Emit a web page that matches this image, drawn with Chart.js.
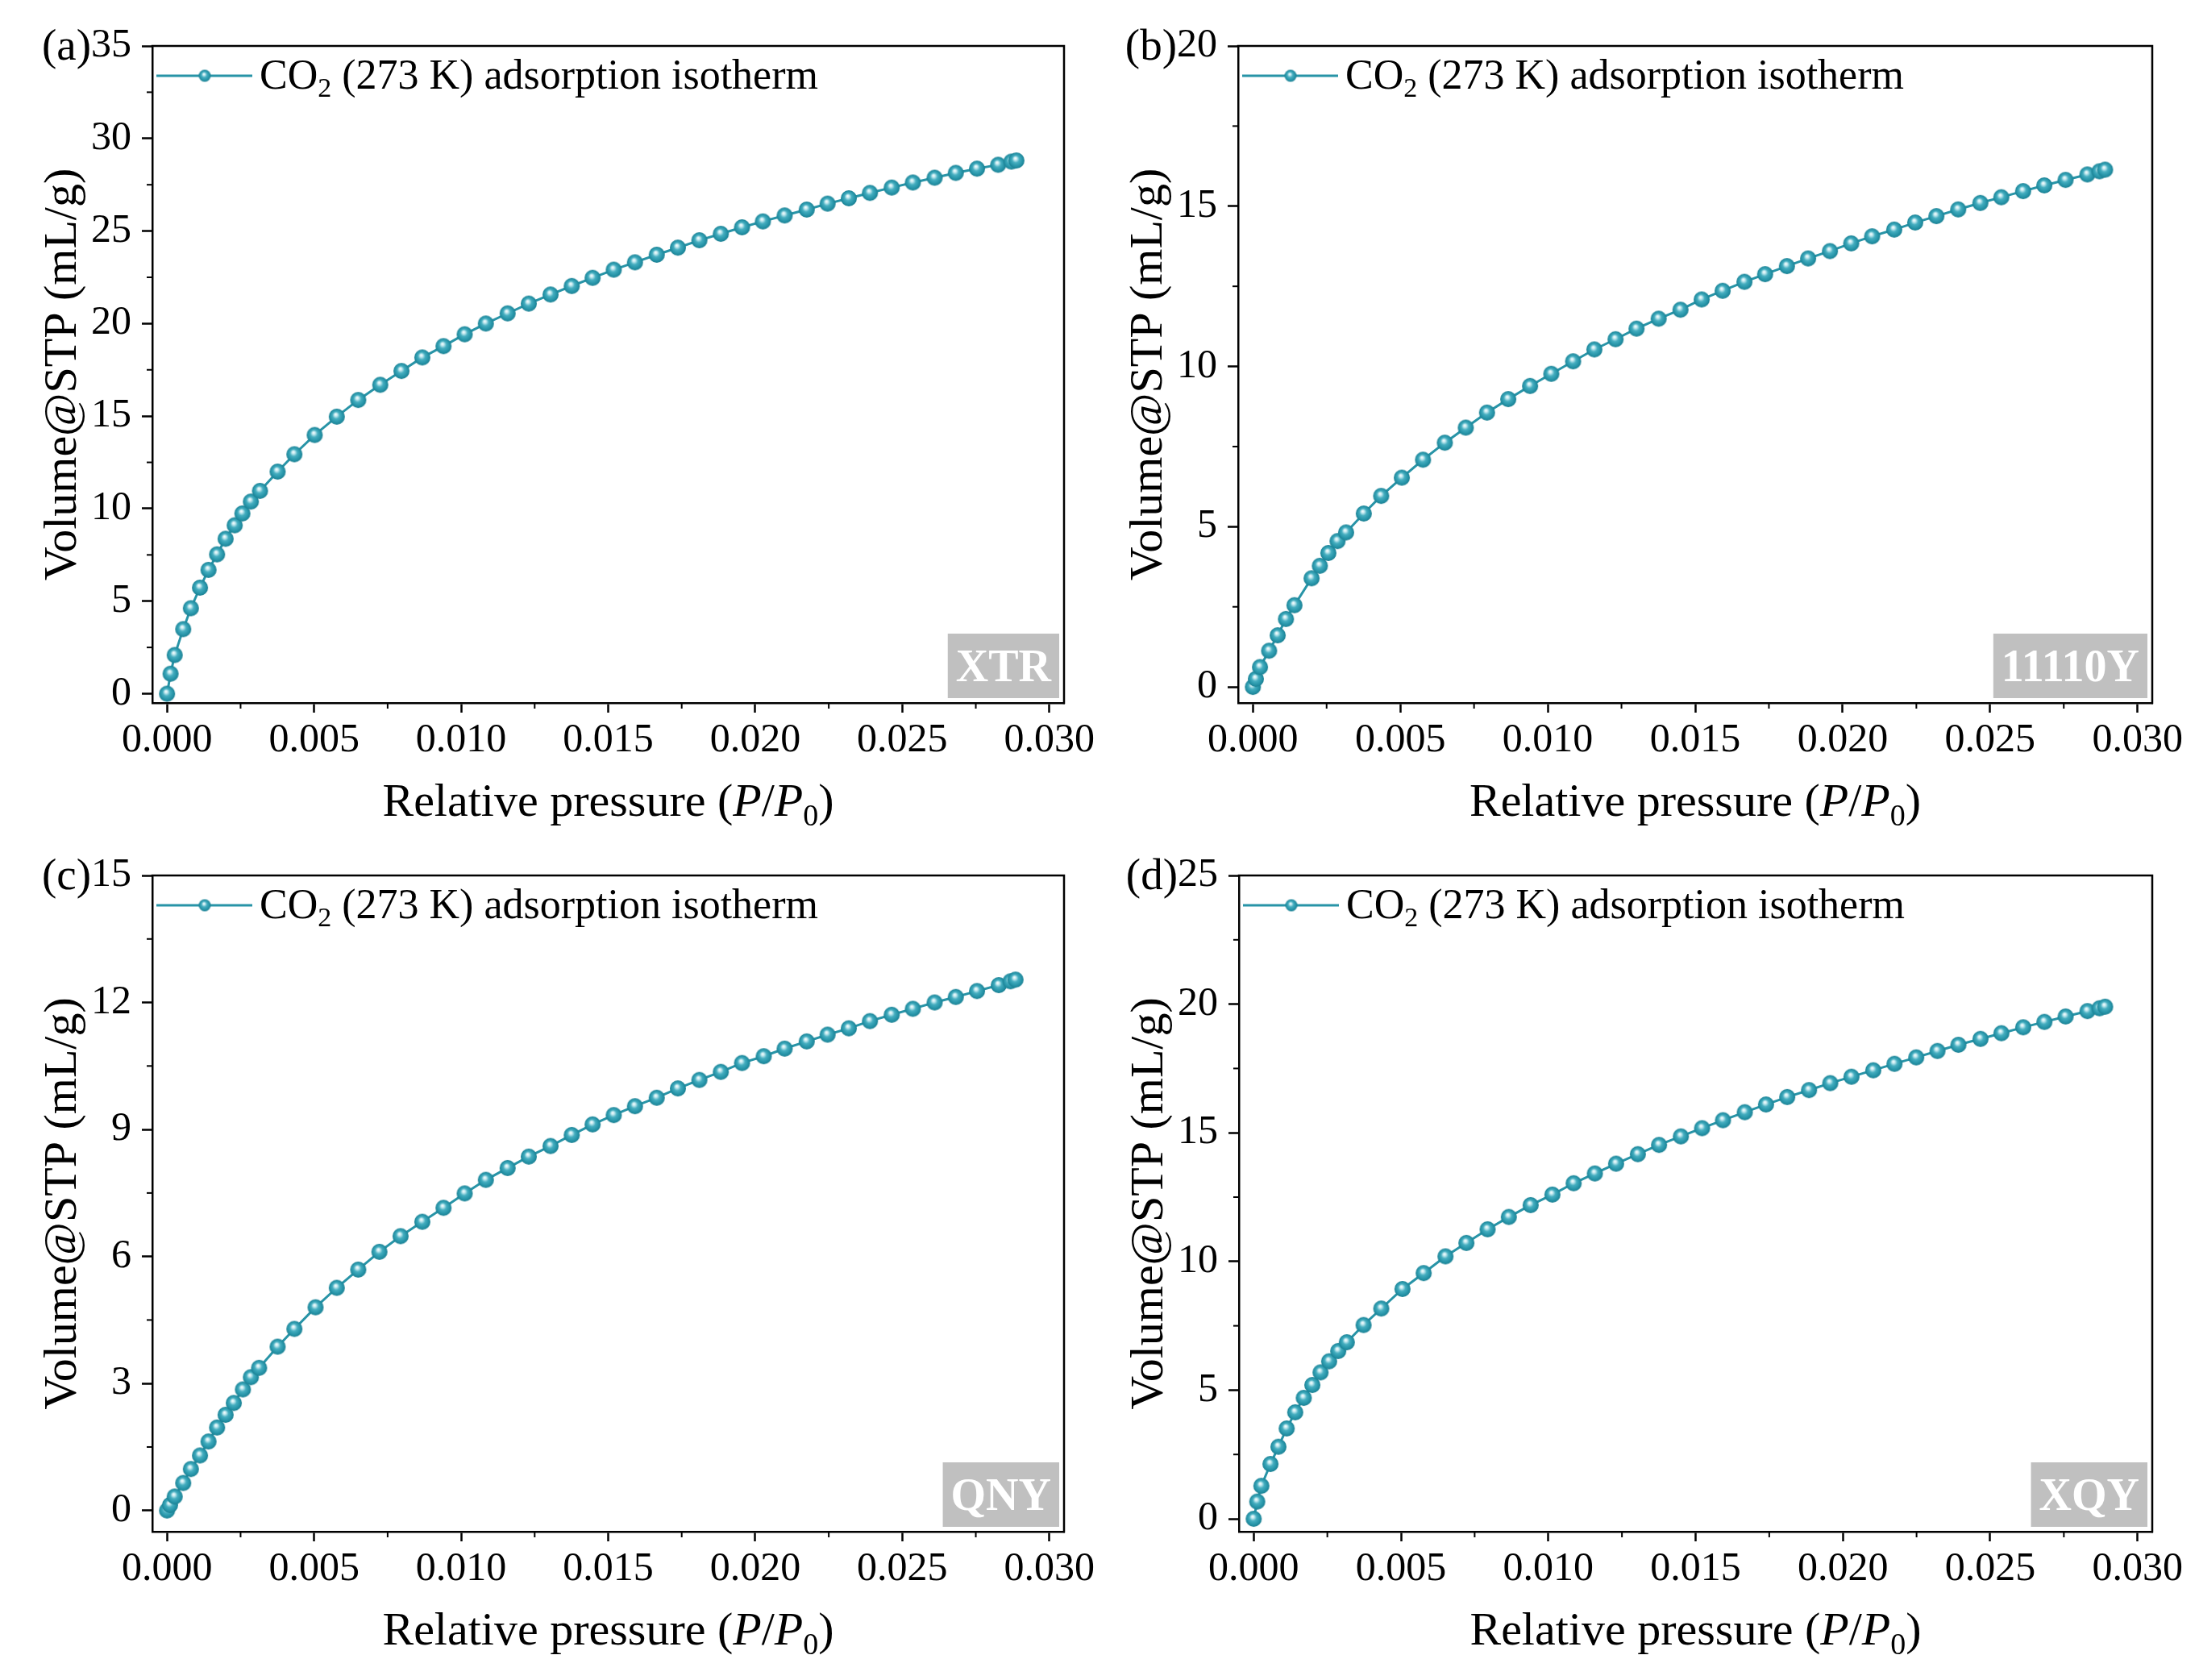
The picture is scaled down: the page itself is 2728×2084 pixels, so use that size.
<!DOCTYPE html>
<html>
<head>
<meta charset="utf-8">
<title>CO2 adsorption isotherms</title>
<script src="https://cdn.jsdelivr.net/npm/chart.js@4.4.1/dist/chart.umd.min.js"></script>
<style>
    html, body { margin: 0; padding: 0; background: #fff; }
    #wrap { position: relative; width: 2728px; height: 2084px; }
    .panel { position: absolute; width: 1364px; height: 1042px; }
</style>
</head>
<body>
<div id="wrap">
    <div class="panel" style="left:0;top:0"><canvas id="chartA" width="1364" height="1042"></canvas></div>
    <div class="panel" style="left:1364px;top:0"><canvas id="chartB" width="1364" height="1042"></canvas></div>
    <div class="panel" style="left:0;top:1042px"><canvas id="chartC" width="1364" height="1042"></canvas></div>
    <div class="panel" style="left:1364px;top:1042px"><canvas id="chartD" width="1364" height="1042"></canvas></div>
</div>
<script>
// ---- Data ----
const xA = [0, 0.00012, 0.00026, 0.00055, 0.00081, 0.00112, 0.00141, 0.0017, 0.00199, 0.0023,
    0.00256, 0.00285, 0.00316, 0.00376, 0.00433, 0.00502, 0.00577, 0.0065, 0.00725, 0.00797,
    0.00868, 0.0094, 0.01012, 0.01084, 0.01158, 0.0123, 0.01304, 0.01376, 0.01447, 0.01519,
    0.01591, 0.01665, 0.01737, 0.0181, 0.01883, 0.01955, 0.02026, 0.021, 0.02175, 0.02246,
    0.02318, 0.0239, 0.02464, 0.02536, 0.0261, 0.02682, 0.02754, 0.02826, 0.02871, 0.02888];
const yA = [0, 1.08, 2.09, 3.49, 4.62, 5.73, 6.69, 7.53, 8.37, 9.10,
    9.74, 10.38, 10.96, 12.0, 12.94, 13.98, 14.97, 15.87, 16.69, 17.44,
    18.17, 18.78, 19.42, 20.0, 20.55, 21.08, 21.57, 22.03, 22.47, 22.91,
    23.31, 23.72, 24.1, 24.5, 24.85, 25.2, 25.52, 25.84, 26.16, 26.48,
    26.77, 27.06, 27.35, 27.62, 27.88, 28.14, 28.37, 28.58, 28.75, 28.81];

const xB = [0, 0.0001, 0.00024, 0.00055, 0.00084, 0.00112, 0.00141, 0.00199, 0.00227, 0.00256,
    0.00287, 0.00316, 0.00376, 0.00435, 0.00505, 0.00577, 0.00651, 0.00722, 0.00794, 0.00866,
    0.0094, 0.01012, 0.01086, 0.01158, 0.0123, 0.01301, 0.01376, 0.0145, 0.01522, 0.01593,
    0.01667, 0.01737, 0.01811, 0.01883, 0.01957, 0.02029, 0.021, 0.02175, 0.02246, 0.02318,
    0.02392, 0.02467, 0.02538, 0.02612, 0.02684, 0.02756, 0.0283, 0.02871, 0.0289];
const yB = [0, 0.25, 0.62, 1.13, 1.61, 2.12, 2.55, 3.39, 3.78, 4.18,
    4.55, 4.82, 5.41, 5.96, 6.53, 7.09, 7.62, 8.09, 8.56, 8.98,
    9.39, 9.77, 10.16, 10.53, 10.85, 11.18, 11.49, 11.77, 12.09, 12.36,
    12.64, 12.88, 13.13, 13.37, 13.6, 13.84, 14.06, 14.27, 14.49, 14.69,
    14.9, 15.1, 15.28, 15.47, 15.65, 15.82, 15.99, 16.09, 16.14];

const xC = [0, 0.0001, 0.00026, 0.00055, 0.00081, 0.00112, 0.00141, 0.0017, 0.00199, 0.00227,
    0.00258, 0.00285, 0.00313, 0.00376, 0.00433, 0.00505, 0.00577, 0.0065, 0.00722, 0.00794,
    0.00868, 0.0094, 0.01012, 0.01084, 0.01158, 0.0123, 0.01304, 0.01376, 0.01447, 0.01519,
    0.01591, 0.01665, 0.01737, 0.0181, 0.01883, 0.01955, 0.02029, 0.021, 0.02175, 0.02246,
    0.02318, 0.0239, 0.02464, 0.02536, 0.0261, 0.02682, 0.02754, 0.02828, 0.02868, 0.02885];
const yC = [0, 0.13, 0.33, 0.65, 0.98, 1.3, 1.63, 1.96, 2.26, 2.54,
    2.86, 3.15, 3.37, 3.87, 4.29, 4.8, 5.26, 5.69, 6.11, 6.48,
    6.82, 7.15, 7.49, 7.81, 8.09, 8.36, 8.61, 8.87, 9.12, 9.34,
    9.55, 9.75, 9.97, 10.17, 10.36, 10.57, 10.73, 10.91, 11.08, 11.24,
    11.39, 11.56, 11.71, 11.85, 12.0, 12.13, 12.27, 12.41, 12.5, 12.54];

const xD = [0, 0.00012, 0.00026, 0.00057, 0.00084, 0.00112, 0.00141, 0.0017, 0.00199, 0.00227,
    0.00256, 0.00287, 0.00316, 0.00373, 0.00433, 0.00505, 0.00577, 0.00651, 0.00722, 0.00794,
    0.00866, 0.0094, 0.01014, 0.01086, 0.01158, 0.0123, 0.01304, 0.01376, 0.0145, 0.01522,
    0.01593, 0.01667, 0.01739, 0.01811, 0.01885, 0.01957, 0.02029, 0.02103, 0.02175, 0.02249,
    0.02321, 0.02392, 0.02467, 0.02538, 0.02612, 0.02684, 0.02756, 0.0283, 0.02871, 0.0289];
const yD = [0, 0.67, 1.28, 2.13, 2.8, 3.51, 4.14, 4.7, 5.2, 5.69,
    6.12, 6.52, 6.86, 7.53, 8.17, 8.93, 9.55, 10.2, 10.72, 11.25,
    11.73, 12.19, 12.6, 13.04, 13.42, 13.8, 14.17, 14.53, 14.86, 15.18,
    15.49, 15.8, 16.1, 16.39, 16.66, 16.93, 17.18, 17.43, 17.68, 17.93,
    18.18, 18.42, 18.65, 18.87, 19.1, 19.31, 19.52, 19.73, 19.84, 19.9];

// Tick values
const xTicks = [0, 0.005, 0.010, 0.015, 0.020, 0.025, 0.030];
const xMinorTicks = [0.0025, 0.0075, 0.0125, 0.0175, 0.0225, 0.0275];
const yTicksA = [0, 5, 10, 15, 20, 25, 30, 35];
const yMinorA = [2.5, 7.5, 12.5, 17.5, 22.5, 27.5, 32.5];
const yTicksB = [0, 5, 10, 15, 20];
const yMinorB = [2.5, 7.5, 12.5, 17.5];
const yTicksC = [0, 3, 6, 9, 12, 15];
const yMinorC = [1.5, 4.5, 7.5, 10.5, 13.5];
const yTicksD = [0, 5, 10, 15, 20, 25];
const yMinorD = [2.5, 7.5, 12.5, 17.5, 22.5];

const panelLabels = ['(a)', '(b)', '(c)', '(d)'];
const sampleNames = ['XTR', '11110Y', 'QNY', 'XQY'];

// Styling
const SERIF = "'Liberation Serif', 'Times New Roman', serif";
const lineColor = '#2894a7';
const CW = 1364, CH = 1042;
const TICK_FONT = 50;

Chart.defaults.font.family = SERIF;
Chart.defaults.color = '#000';

// Shaded sphere used as point marker
function makeSphere(r) {
    const c = document.createElement('canvas');
    const s = Math.ceil(r * 2 + 2);
    c.width = s; c.height = s;
    const g = c.getContext('2d');
    const cx = s / 2, cy = s / 2;
    const grad = g.createRadialGradient(cx - r * 0.15, cy - r * 0.3, 0, cx, cy, r);
    grad.addColorStop(0, '#ffffff');
    grad.addColorStop(0.18, '#c9ecf2');
    grad.addColorStop(0.45, '#45aec0');
    grad.addColorStop(0.8, '#2593a7');
    grad.addColorStop(1, '#1b7f91');
    g.fillStyle = grad;
    g.beginPath();
    g.arc(cx, cy, r, 0, Math.PI * 2);
    g.fill();
    return c;
}
const sphere = makeSphere(10);
const legendSphere = makeSphere(7.5);

// Draws frame, minor ticks, legend, panel label, sample badge and x title
const panelDecor = {
    id: 'panelDecor',
    afterDraw(chart, args, opts) {
        const ctx = chart.ctx;
        const {left, right, top, bottom} = chart.chartArea;
        const xs = chart.scales.x, ys = chart.scales.y;
        ctx.save();

        // top + right frame
        ctx.strokeStyle = '#000';
        ctx.lineWidth = 2.5;
        ctx.beginPath();
        ctx.moveTo(left - 1.25, top);
        ctx.lineTo(right, top);
        ctx.lineTo(right, bottom + 1.25);
        ctx.stroke();

        // minor ticks
        ctx.lineWidth = 2;
        xMinorTicks.forEach(v => {
            const px = xs.getPixelForValue(v);
            ctx.beginPath(); ctx.moveTo(px, bottom); ctx.lineTo(px, bottom + 7); ctx.stroke();
        });
        opts.yMinor.forEach(v => {
            const py = ys.getPixelForValue(v);
            ctx.beginPath(); ctx.moveTo(left, py); ctx.lineTo(left - 7, py); ctx.stroke();
        });

        // legend
        const ly = top + 37;
        ctx.strokeStyle = lineColor;
        ctx.lineWidth = 3;
        ctx.beginPath(); ctx.moveTo(left + 5, ly); ctx.lineTo(left + 124, ly); ctx.stroke();
        ctx.drawImage(legendSphere, left + 65 - legendSphere.width / 2, ly - legendSphere.height / 2);
        ctx.fillStyle = '#000';
        ctx.textAlign = 'left';
        ctx.textBaseline = 'alphabetic';
        let tx = left + 133;
        const base = ly + 16;
        ctx.font = '52px ' + SERIF;
        ctx.fillText('CO', tx, base); tx += ctx.measureText('CO').width;
        ctx.font = '34px ' + SERIF;
        ctx.fillText('2', tx, base + 10); tx += ctx.measureText('2').width;
        ctx.font = '52px ' + SERIF;
        ctx.fillText(' (273 K) adsorption isotherm', tx, base);

        // panel label next to the top tick label
        ctx.font = TICK_FONT + 'px ' + SERIF;
        const topLabel = String(ys.max);
        const labelRight = left - 13 - 13 - ctx.measureText(topLabel).width;
        ctx.font = '55px ' + SERIF;
        ctx.textAlign = 'right';
        ctx.fillText(opts.label, labelRight, top + 17);

        // sample badge
        ctx.font = 'bold 56px ' + SERIF;
        const bw = ctx.measureText(opts.sample).width + 20;
        const bh = 80;
        const bx = right - 6 - bw, by = bottom - 6 - bh;
        ctx.fillStyle = '#c0c0c0';
        ctx.fillRect(bx, by, bw, bh);
        ctx.fillStyle = '#fff';
        ctx.textAlign = 'center';
        ctx.fillText(opts.sample, bx + bw / 2, by + bh / 2 + 19);

        // x axis title with italic P and subscript 0
        const parts = [
            {t: 'Relative pressure (', f: '58px ' + SERIF, dy: 0},
            {t: 'P', f: 'italic 58px ' + SERIF, dy: 0},
            {t: '/', f: '58px ' + SERIF, dy: 0},
            {t: 'P', f: 'italic 58px ' + SERIF, dy: 0},
            {t: '0', f: '38px ' + SERIF, dy: 12},
            {t: ')', f: '58px ' + SERIF, dy: 0}
        ];
        let total = 0;
        parts.forEach(p => { ctx.font = p.f; p.w = ctx.measureText(p.t).width; total += p.w; });
        let px = (left + right) / 2 - total / 2;
        const tb = bottom + 140;
        ctx.fillStyle = '#000';
        ctx.textAlign = 'left';
        parts.forEach(p => { ctx.font = p.f; ctx.fillText(p.t, px, tb + p.dy); px += p.w; });

        ctx.restore();
    }
};

// Plot-area boxes inside each canvas
const boxes = [
    {left: 189, right: 1320, top: 57, bottom: 872},
    {left: 172, right: 1306, top: 57, bottom: 872},
    {left: 189, right: 1320, top: 44, bottom: 858},
    {left: 173, right: 1306, top: 44, bottom: 858}
];

function makeChart(id, idx, xs, ys, yMax, yTicks, yMinor) {
    const box = boxes[idx];
    const ctx = document.getElementById(id).getContext('2d');
    return new Chart(ctx, {
        type: 'line',
        data: {
            datasets: [{
                data: xs.map((x, i) => ({x: x, y: ys[i]})),
                borderColor: lineColor,
                borderWidth: 3,
                tension: 0,
                pointStyle: sphere,
                pointRadius: 10,
                clip: false
            }]
        },
        options: {
            responsive: false,
            devicePixelRatio: 1,
            animation: false,
            layout: {
                padding: {left: 0, top: box.top, right: CW - box.right, bottom: 0}
            },
            plugins: {
                legend: {display: false},
                tooltip: {enabled: false},
                panelDecor: {label: panelLabels[idx], sample: sampleNames[idx], yMinor: yMinor}
            },
            scales: {
                x: {
                    type: 'linear',
                    min: -0.0005,
                    max: 0.0305,
                    afterBuildTicks: s => { s.ticks = xTicks.map(v => ({value: v})); },
                    afterFit: s => { s.height = CH - box.bottom; s.paddingLeft = 0; s.paddingRight = 0; },
                    border: {display: true, color: '#000', width: 2.5},
                    grid: {drawOnChartArea: false, drawTicks: true, tickLength: 12, tickColor: '#000', tickWidth: 2.5},
                    ticks: {
                        font: {size: TICK_FONT, family: SERIF},
                        color: '#000',
                        padding: 5,
                        maxRotation: 0,
                        autoSkip: false,
                        callback: v => v.toFixed(3)
                    }
                },
                y: {
                    type: 'linear',
                    min: -0.5,
                    max: yMax,
                    afterBuildTicks: s => { s.ticks = yTicks.map(v => ({value: v})); },
                    afterFit: s => { s.width = box.left; s.paddingTop = 0; s.paddingBottom = 0; },
                    border: {display: true, color: '#000', width: 2.5},
                    grid: {drawOnChartArea: false, drawTicks: true, tickLength: 13, tickColor: '#000', tickWidth: 2.5},
                    ticks: {
                        font: {size: TICK_FONT, family: SERIF},
                        color: '#000',
                        padding: 13,
                        autoSkip: false,
                        callback: v => String(v)
                    },
                    title: {
                        display: true,
                        text: 'Volume@STP (mL/g)',
                        font: {size: 58, family: SERIF},
                        color: '#000',
                        padding: {top: box.left - 110 - 35, bottom: 0}
                    }
                }
            }
        },
        plugins: [panelDecor]
    });
}

makeChart('chartA', 0, xA, yA, 35, yTicksA, yMinorA);
makeChart('chartB', 1, xB, yB, 20, yTicksB, yMinorB);
makeChart('chartC', 2, xC, yC, 15, yTicksC, yMinorC);
makeChart('chartD', 3, xD, yD, 25, yTicksD, yMinorD);
</script>
</body>
</html>
